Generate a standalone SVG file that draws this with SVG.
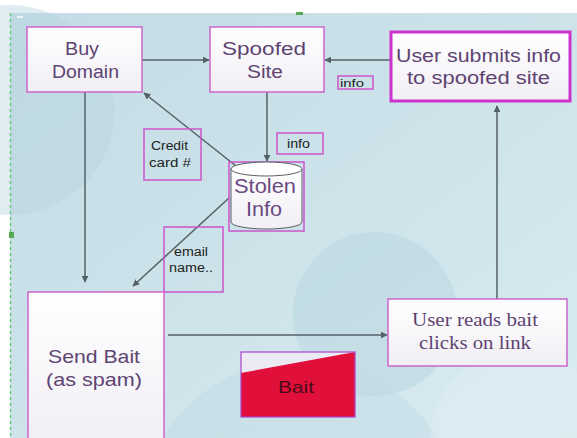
<svg xmlns="http://www.w3.org/2000/svg" width="577" height="438" viewBox="0 0 577 438">
<style>
.box{fill:url(#boxg);stroke:#cc66cc;stroke-width:1.5}
.lbl{fill:none;stroke:#cc55cc;stroke-width:1.5}
.t{font-family:"Liberation Sans",Arial,sans-serif;fill:#5e4472}
.s{font-family:"Liberation Sans",Arial,sans-serif;fill:#222;font-size:12px}
.serif{font-family:"Liberation Serif","Times New Roman",serif;fill:#5e4472}
.c{stroke:#556066;stroke-width:1.5;fill:none;marker-end:url(#ah)}
</style>
<defs>
<linearGradient id="bg" x1="0" y1="0" x2="1" y2="1">
<stop offset="0" stop-color="#c4dce5"/>
<stop offset="0.6" stop-color="#cfe4eb"/>
<stop offset="1" stop-color="#d9ecf1"/>
</linearGradient>
<linearGradient id="boxg" x1="0" y1="0" x2="0" y2="1">
<stop offset="0" stop-color="#ffffff"/>
<stop offset="1" stop-color="#f1eef4"/>
</linearGradient>
<marker id="ah" viewBox="0 0 10 10" refX="9" refY="5" markerWidth="7" markerHeight="7" orient="auto" markerUnits="userSpaceOnUse">
<path d="M0,0 L10,5 L0,10 z" fill="#556066"/>
</marker>
</defs>
<rect x="0" y="0" width="577" height="438" fill="#ffffff"/>
<rect x="10" y="13" width="567" height="425" fill="url(#bg)"/>
<circle cx="10" cy="110" r="105" fill="#b9d5df" opacity="0.45"/>
<circle cx="375" cy="314" r="82" fill="#b7d6df" opacity="0.5"/>
<circle cx="300" cy="520" r="160" fill="#bcd8e1" opacity="0.35"/>
<circle cx="520" cy="440" r="90" fill="#e2f0f4" opacity="0.4"/>
<line x1="10.5" y1="13" x2="10.5" y2="438" stroke="#66cc77" stroke-width="1.5" stroke-dasharray="3,3"/>
<rect x="9" y="232" width="5" height="6" fill="#55aa55"/>
<rect x="296" y="12" width="7" height="3" fill="#55aa55"/>
<line x1="17" y1="17" x2="23" y2="17" stroke="#ffffff" stroke-width="1.5"/>

<g id="connectors">
<line class="c" x1="142" y1="60" x2="209" y2="60"/>
<line class="c" x1="391" y1="60" x2="325" y2="60"/>
<line class="c" x1="267" y1="92" x2="267" y2="161"/>
<line class="c" x1="236" y1="166" x2="144" y2="93"/>
<line class="c" x1="85" y1="92" x2="85" y2="282"/>
<line class="c" x1="229" y1="198" x2="133" y2="286"/>
<line class="c" x1="168" y1="335" x2="387" y2="335"/>
<line class="c" x1="497" y1="299" x2="497" y2="106"/>
</g>

<g id="buy-domain">
<rect class="box" x="27" y="27" width="115" height="65"/>
<text class="t" x="65" y="55" font-size="18" textLength="34" lengthAdjust="spacingAndGlyphs">Buy</text>
<text class="t" x="52" y="78" font-size="18" textLength="67" lengthAdjust="spacingAndGlyphs">Domain</text>
</g>

<g id="spoofed-site">
<rect class="box" x="210" y="27" width="114" height="65"/>
<text class="t" x="222" y="55" font-size="18" textLength="84" lengthAdjust="spacingAndGlyphs">Spoofed</text>
<text class="t" x="247" y="78" font-size="18" textLength="36" lengthAdjust="spacingAndGlyphs">Site</text>
</g>

<g id="user-submits">
<rect x="391" y="32" width="179" height="69" fill="url(#boxg)" stroke="#cc33cc" stroke-width="3"/>
<text class="t" x="396" y="62" font-size="18" textLength="165" lengthAdjust="spacingAndGlyphs">User submits info</text>
<text class="t" x="407" y="84" font-size="18" textLength="143" lengthAdjust="spacingAndGlyphs">to spoofed site</text>
</g>

<g id="info-label-1">
<rect class="lbl" x="338" y="76" width="35" height="13"/>
<text class="s" x="340" y="87" style="font-size:11px" textLength="24" lengthAdjust="spacingAndGlyphs">info</text>
</g>

<g id="info-label-2">
<rect class="lbl" x="277" y="133" width="46" height="21"/>
<text class="s" x="287" y="148" textLength="23" lengthAdjust="spacingAndGlyphs">info</text>
</g>

<g id="credit-card">
<rect class="lbl" x="144" y="129" width="57" height="51"/>
<text class="s" x="151" y="150" textLength="37" lengthAdjust="spacingAndGlyphs">Credit</text>
<text class="s" x="149" y="167" textLength="42" lengthAdjust="spacingAndGlyphs">card #</text>
</g>

<g id="stolen-info">
<rect class="lbl" x="229" y="162" width="75" height="69"/>
<path d="M231,169 L231,222 A35.5,7 0 0 0 302,222 L302,169" fill="url(#boxg)" stroke="#556066" stroke-width="1"/>
<ellipse cx="266.5" cy="169" rx="35.5" ry="7" fill="#ffffff" stroke="#556066" stroke-width="1"/>
<text class="t" x="234" y="193" font-size="20" style="fill:#6a4a80" textLength="62" lengthAdjust="spacingAndGlyphs">Stolen</text>
<text class="t" x="246" y="216" font-size="20" style="fill:#6a4a80" textLength="36" lengthAdjust="spacingAndGlyphs">Info</text>
</g>

<g id="email-name">
<rect class="lbl" x="164" y="227" width="59" height="65"/>
<text class="s" x="174" y="256" textLength="34" lengthAdjust="spacingAndGlyphs">email</text>
<text class="s" x="169" y="272" textLength="44" lengthAdjust="spacingAndGlyphs">name..</text>
</g>

<g id="send-bait">
<rect class="box" x="28" y="292" width="136" height="160"/>
<text class="t" x="48" y="363" font-size="19" textLength="92" lengthAdjust="spacingAndGlyphs">Send Bait</text>
<text class="t" x="46" y="386" font-size="19" textLength="96" lengthAdjust="spacingAndGlyphs">(as spam)</text>
</g>

<g id="user-reads">
<rect class="box" x="388" y="299" width="179" height="67"/>
<text class="serif" x="412" y="326" font-size="18" textLength="126" lengthAdjust="spacingAndGlyphs">User reads bait</text>
<text class="serif" x="419" y="349" font-size="18" textLength="112" lengthAdjust="spacingAndGlyphs">clicks on link</text>
</g>

<g id="bait">
<rect x="241" y="352" width="114" height="65" fill="#ecebf4"/>
<polygon points="241,373 355,352 355,417 241,417" fill="#e0103a"/>
<rect x="241" y="352" width="114" height="65" fill="none" stroke="#aa44cc" stroke-width="1.2"/>
<text class="t" x="278" y="393" font-size="17" style="fill:#4a0c18" textLength="36" lengthAdjust="spacingAndGlyphs">Bait</text>
</g>
</svg>
